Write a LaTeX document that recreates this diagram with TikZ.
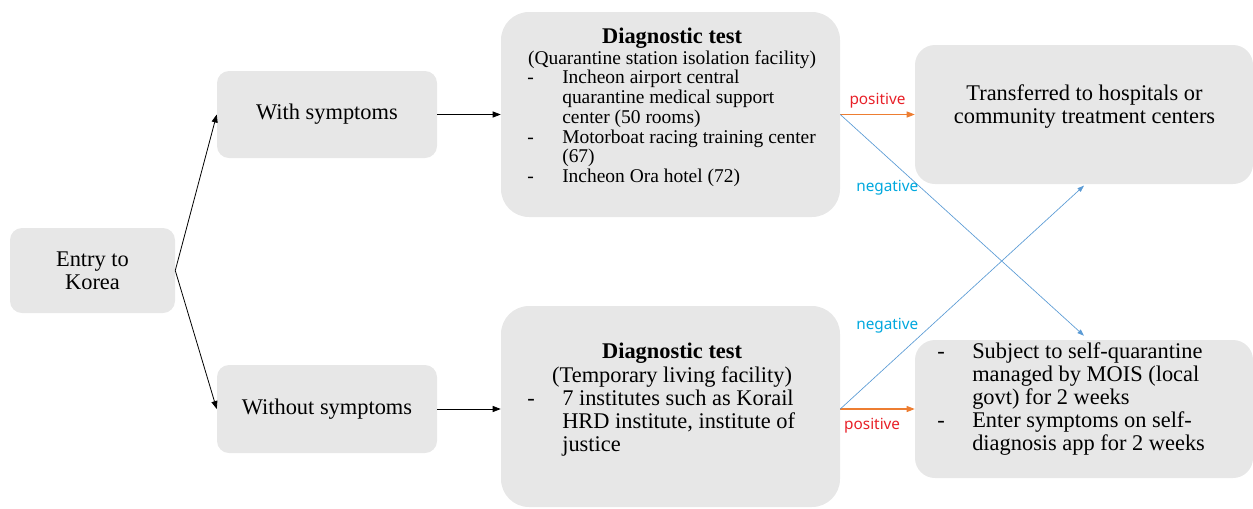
\documentclass[tikz,border=0pt]{standalone}
\usepackage{fontspec}
\setmainfont{Liberation Serif}
\newfontfamily\etichettafont{Noto Sans}
\usepackage{array}
\usetikzlibrary{positioning, arrows.meta}
\definecolor{Grey10}{RGB}{231, 231, 231}
\definecolor{Orange40}{RGB}{237, 125, 49}
\definecolor{Blue40}{RGB}{91, 155, 213}
\definecolor{Red}{RGB}{232, 32, 40}
\definecolor{Cyan50}{RGB}{0, 168, 222}
\newcommand{\grande}{\fontsize{16.8}{17.25}\selectfont}
\newcommand{\piccolo}{\fontsize{14.6}{14.8}\selectfont}
\tikzset{
    riquadro/.style = {fill=Grey10, draw=none, rounded corners=9pt, inner sep=0pt, align=center, font=\grande},
    testo/.style = {inner sep=0pt, font=\grande},
    freccia/.style = {arrows = {-Triangle[length=6pt, width=4.5pt]}, line width=0.6pt},
    freccia arancio/.style = {arrows = {-Triangle[length=6pt, width=4.5pt]}, line width=0.8pt, Orange40},
    freccia blu/.style = {arrows = {-Triangle[length=5pt, width=3.5pt]}, line width=0.5pt, Blue40},
    etichetta/.style = {inner sep=1.5pt, font=\etichettafont\fontsize{11.5}{13}\selectfont}
}

\begin{document}
\begin{tikzpicture}[x=0.75pt, y=-0.75pt]
    \useasboundingbox (0,0) rectangle (1253,508);

    %%% Boxes
    \node[riquadro, minimum width=123.75pt, minimum height=63.75pt] (ingresso) at (92.5,270.5) {Entry to\\Korea};
    \node[riquadro, minimum width=165pt, minimum height=65.25pt] (consintomi) at (327,114.5) {With symptoms};
    \node[riquadro, minimum width=165pt, minimum height=66pt] (senzasintomi) at (327,409) {Without symptoms};
    \node[riquadro, rounded corners=21pt, minimum width=254.25pt, minimum height=153.75pt] (test1) at (670.5,114.5) {};
    \node[riquadro, rounded corners=21pt, minimum width=254.25pt, minimum height=150.75pt] (test2) at (670.5,406.5) {};
    \node[riquadro, rounded corners=15pt, minimum width=253.5pt, minimum height=104.25pt] (ospedale) at (1084,114.5) {};
    \node[riquadro, rounded corners=15pt, minimum width=253.5pt, minimum height=103.5pt] (quarantena) at (1084,409) {};

    % texts
    \node[testo, anchor=base west] (test1 testo) at (527,43) {\piccolo
        \begin{tabular}[t]{@{}p{26.25pt}@{}p{191pt}@{}}
            \multicolumn{2}{@{}c@{}}{\grande\bfseries Diagnostic test}\\[1pt]
            \multicolumn{2}{@{}c@{}}{(Quarantine station isolation facility)}\\
            - & Incheon airport central\\
              & quarantine medical support\\
              & center (50 rooms)\\
            - & Motorboat racing training center\\
              & (67)\\
            - & Incheon Ora hotel (72)
        \end{tabular}};
    \node[testo, anchor=base west] (test2 testo) at (527,358) {
        \begin{tabular}[t]{@{}p{26.25pt}@{}p{191pt}@{}}
            \multicolumn{2}{@{}c@{}}{\bfseries Diagnostic test}\\[1pt]
            \multicolumn{2}{@{}c@{}}{(Temporary living facility)}\\
            - & 7 institutes such as Korail\\
              & HRD institute, institute of\\
              & justice
        \end{tabular}};
    \node[testo, anchor=base] (ospedale testo) at (1084.5,100) {
        \begin{tabular}[t]{@{}c@{}}
            Transferred to hospitals or\\
            community treatment centers
        \end{tabular}};
    \node[testo, anchor=base west] (quarantena testo) at (937,358) {
        \begin{tabular}[t]{@{}p{26.25pt}@{}l@{}}
            - & Subject to self-quarantine\\
              & managed by MOIS (local\\
              & govt) for 2 weeks\\
            - & Enter symptoms on self-\\
              & diagnosis app for 2 weeks
        \end{tabular}};

    %%% Arrows
    \draw[freccia] (ingresso.east) -- (consintomi.west);
    \draw[freccia] (ingresso.east) -- (senzasintomi.west);
    \draw[freccia] (consintomi.east) -- (test1.west |- consintomi);
    \draw[freccia] (senzasintomi.east) -- (test2.west |- senzasintomi);

    % results
    \draw[freccia arancio] (test1.east) -- (ospedale.west)
        node[midway, above=2.5pt, etichetta, text=Red] (pos1) {positive};
    \draw[freccia blu] (test1.east) -- ([yshift=3pt]quarantena.north)
        node[pos=0.33, anchor=east, etichetta, text=Cyan50] (neg1) {negative};
    \draw[freccia arancio] (test2.east |- quarantena.west) -- (quarantena.west)
        node[midway, below=5pt, xshift=-4pt, etichetta, text=Red] (pos2) {positive};
    \draw[freccia blu] (test2.east |- quarantena.west) -- ([yshift=-1pt]ospedale.south)
        node[pos=0.33, anchor=south east, etichetta, text=Cyan50] (neg2) {negative};
\end{tikzpicture}
\end{document}
